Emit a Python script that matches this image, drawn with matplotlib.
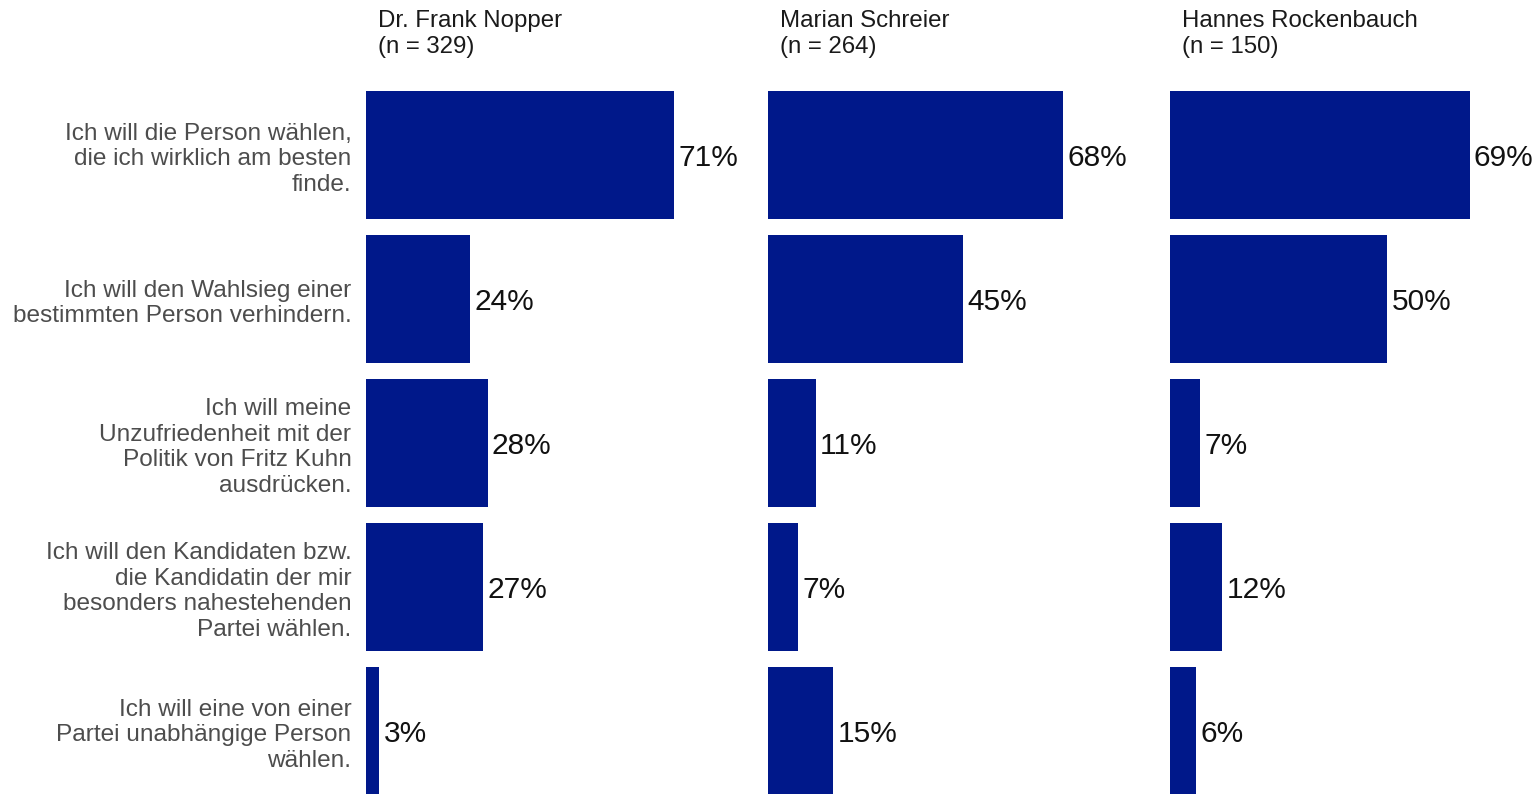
import matplotlib.pyplot as plt

plt.rcParams['font.family'] = ['Liberation Sans', 'DejaVu Sans']

# Daten
candidates = ['Dr. Frank Nopper', 'Marian Schreier', 'Hannes Rockenbauch']
n_values = [329, 264, 150]
reasons = [
    'Ich will die Person wählen,\ndie ich wirklich am besten\nfinde.',
    'Ich will den Wahlsieg einer\nbestimmten Person verhindern.',
    'Ich will meine\nUnzufriedenheit mit der\nPolitik von Fritz Kuhn\nausdrücken.',
    'Ich will den Kandidaten bzw.\ndie Kandidatin der mir\nbesonders nahestehenden\nPartei wählen.',
    'Ich will eine von einer\nPartei unabhängige Person\nwählen.',
]
nopper = [71, 24, 28, 27, 3]
schreier = [68, 45, 11, 7, 15]
rockenbauch = [69, 50, 7, 12, 6]
values = [nopper, schreier, rockenbauch]

bar_color = '#00188A'

W, H = 1540, 794
fig = plt.figure(figsize=(W / 100, H / 100), dpi=100)

panel_lefts = [366, 768, 1170]
panel_w = 370
ax_top = 80
ypos = list(range(len(reasons)))

for i, (name, n, vals) in enumerate(zip(candidates, n_values, values)):
    ax = fig.add_axes([panel_lefts[i] / W, 0, panel_w / W, (H - ax_top) / H])
    ax.barh(ypos, vals, height=0.889, color=bar_color)
    for y, v in zip(ypos, vals):
        ax.text(v + 1.0, y + 0.02, f'{v}%', va='center', ha='left', fontsize=21.5, color='#111111')
    ax.set_xlim(0, 85.2)
    ax.set_ylim(4.4375, -0.521)
    for s in ax.spines.values():
        s.set_visible(False)
    ax.set_xticks([])
    ax.set_yticks([])
    if i == 0:
        ax.set_yticks(ypos)
        ax.set_yticklabels(reasons, fontsize=17.6, color='#4D4D4D', linespacing=1.22)
        ax.tick_params(axis='y', length=0, pad=10.5)
    fig.text((panel_lefts[i] + 12) / W, 1 - 10 / H, f'{name}\n(n = {n})',
             ha='left', va='top', fontsize=17.3, color='#1A1A1A', linespacing=1.22)

fig.savefig('out.png', dpi=100, facecolor='white')
